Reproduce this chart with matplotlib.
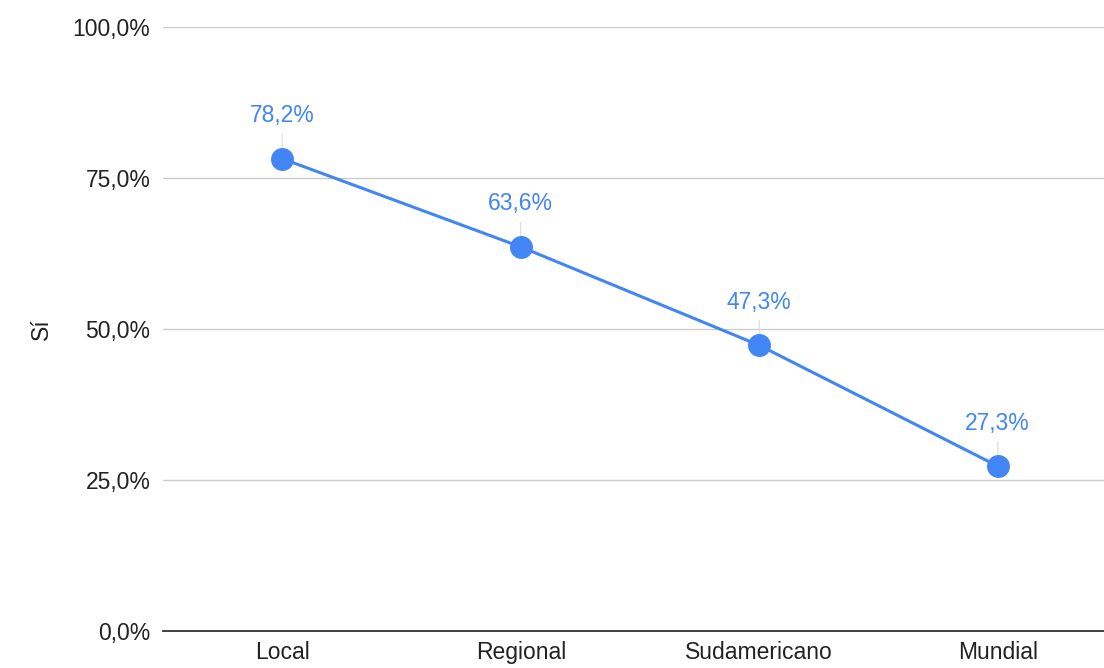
import matplotlib
matplotlib.use("Agg")
import matplotlib.pyplot as plt
from matplotlib.ticker import FuncFormatter

categories = ["Local", "Regional", "Sudamericano", "Mundial"]
si_pct = [78.2, 63.6, 47.3, 27.3]
y_ticks = [0, 25, 50, 75, 100]

BLUE = "#4285F4"
plt.rcParams["font.family"] = ["Liberation Sans", "DejaVu Sans"]

fig = plt.figure(figsize=(11.04, 6.68), dpi=100)
ax = fig.add_axes([163 / 1104, 37 / 668, 954 / 1104, 604 / 668])

x = list(range(len(categories)))
ax.plot(x, si_pct, color=BLUE, linewidth=2.2, marker="o", markersize=15.5,
        zorder=3, clip_on=False)

for xi, v in zip(x, si_pct):
    ax.annotate(f"{v:.1f}%".replace(".", ","), xy=(xi, v), xytext=(0, 31),
                textcoords="offset points", ha="center", va="center",
                color=BLUE, fontsize=16.5, zorder=2,
                arrowprops=dict(arrowstyle="-", color="#d9d9d9", lw=0.8,
                                shrinkA=3, shrinkB=0))

ax.set_xlim(-0.5, len(categories) - 0.5)
ax.set_ylim(0, 100)
ax.set_xticks(x)
ax.set_xticklabels(categories)
ax.set_yticks(y_ticks)
ax.yaxis.set_major_formatter(FuncFormatter(lambda v, _: f"{v:.1f}%".replace(".", ",")))
ax.tick_params(axis="both", length=0, labelsize=16.5, labelcolor="#222222")
ax.tick_params(axis="y", pad=9)
ax.tick_params(axis="x", pad=7)

ax.grid(axis="y", color="#cccccc", linewidth=1.0)
ax.set_axisbelow(True)
for s in ["top", "right", "left"]:
    ax.spines[s].set_visible(False)
ax.spines["bottom"].set_color("#333333")
ax.spines["bottom"].set_linewidth(1.3)

ax.set_ylabel("Sí", fontsize=16.5, color="#222222", labelpad=14)

fig.savefig("out.png", dpi=100)
